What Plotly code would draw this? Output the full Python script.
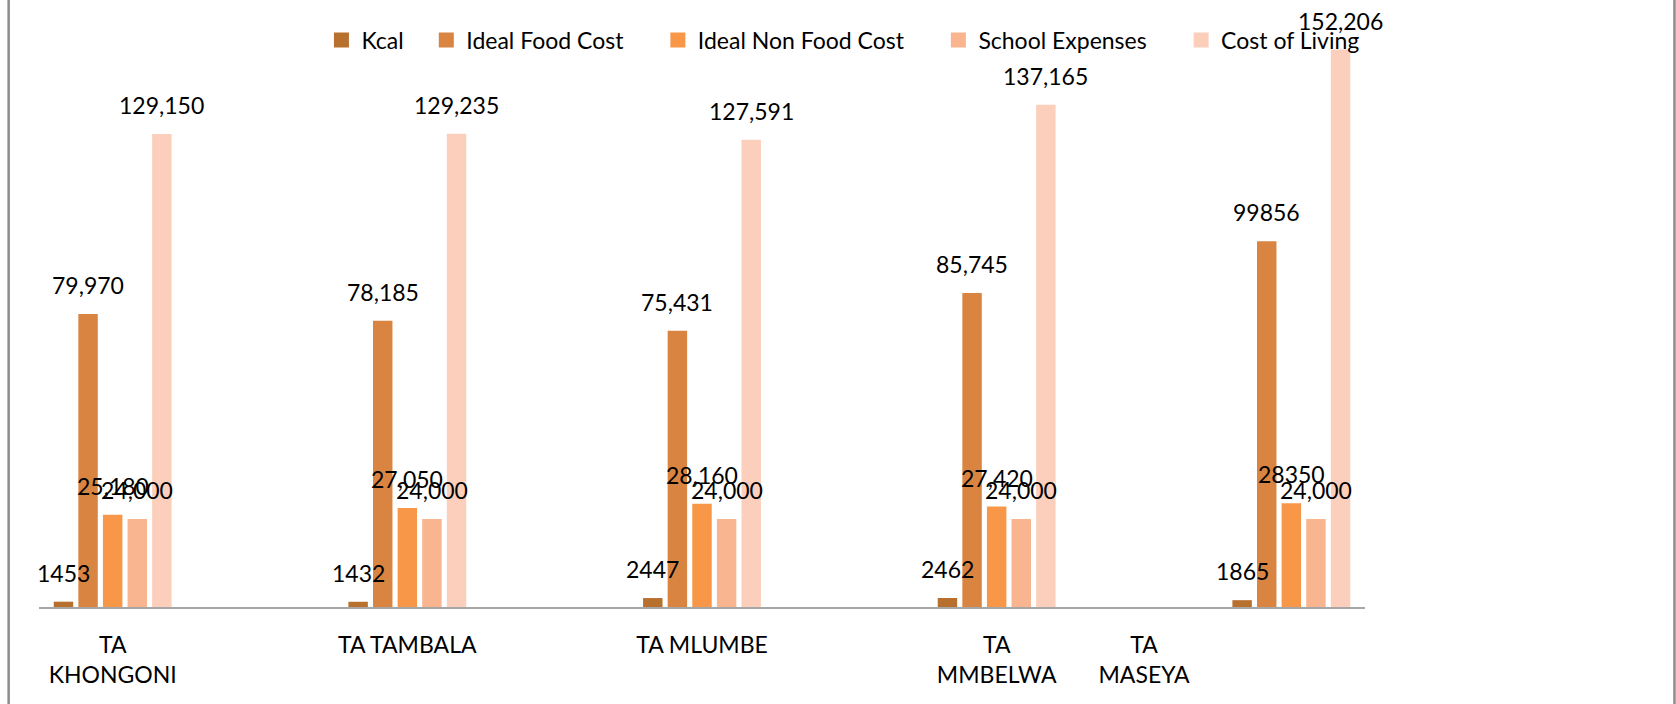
import plotly.graph_objects as go

# ---- data ----
categories = ["TA<br>KHONGONI", "TA TAMBALA", "TA MLUMBE", "TA<br>MMBELWA", "TA<br>MASEYA"]
group_x = [0, 1, 2, 3, 4]
tick_positions = [0, 1, 2, 3, 3.5]

series_names = ["Kcal", "Ideal Food Cost", "Ideal Non Food Cost", "School Expenses", "Cost of Living"]
kcal = [1453, 1432, 2447, 2462, 1865]
ideal_food_cost = [79970, 78185, 75431, 85745, 99856]
ideal_non_food_cost = [25180, 27050, 28160, 27420, 28350]
school_expenses = [24000, 24000, 24000, 24000, 24000]
cost_of_living = [129150, 129235, 127591, 137165, 152206]

kcal_labels = ["1453", "1432", "2447", "2462", "1865"]
food_labels = ["79,970", "78,185", "75,431", "85,745", "99856"]
non_food_labels = ["25,180", "27,050", "28,160", "27,420", "28350"]
school_labels = ["24,000", "24,000", "24,000", "24,000", "24,000"]
living_labels = ["129,150", "129,235", "127,591", "137,165", "152,206"]

series_values = [kcal, ideal_food_cost, ideal_non_food_cost, school_expenses, cost_of_living]
series_labels = [kcal_labels, food_labels, non_food_labels, school_labels, living_labels]
colors = ["#b8702f", "#d98440", "#f79747", "#f9b590", "#fbcfbb"]

# ---- style ----
FONT = "Lato"
FS = 23
bar_w = 0.066
slot = 0.0835
legend_pad = [3, 5, 5, 5, 0]

fig = go.Figure()
annotations = []
for j, (name, vals, labs, col) in enumerate(zip(series_names, series_values, series_labels, colors)):
    off = (j - 2) * slot
    fig.add_trace(go.Bar(
        x=group_x, y=vals, name=name, width=bar_w, offset=off - bar_w / 2,
        marker=dict(color=col, line=dict(width=0)), showlegend=False,
    ))
    fig.add_trace(go.Scatter(
        x=[None], y=[None], mode="markers", name=name + "\u00a0" * legend_pad[j],
        marker=dict(symbol="square", size=15, color=col), showlegend=True,
    ))
    for gx, v, t in zip(group_x, vals, labs):
        annotations.append(dict(
            x=gx + off, y=v, xref="x", yref="y", text=t, showarrow=False,
            yanchor="bottom", xanchor="center", yshift=13,
            font=dict(family=FONT, size=FS, color="#000000"),
        ))

frame = [
    dict(type="line", xref="paper", yref="paper", x0=-0.0229, x1=-0.0229, y0=-0.3, y1=1.2,
         line=dict(color="#8c8c8c", width=2.5)),
    dict(type="line", xref="paper", yref="paper", x0=1.2334, x1=1.2334, y0=-0.3, y1=1.2,
         line=dict(color="#8c8c8c", width=2.5)),
]

fig.update_layout(
    width=1676, height=704,
    margin=dict(l=39, r=311, t=21, b=97, pad=0),
    paper_bgcolor="white", plot_bgcolor="white",
    barmode="overlay",
    font=dict(family=FONT, size=FS, color="#000000"),
    annotations=annotations,
    shapes=frame,
    legend=dict(orientation="h", x=0.213, y=0.9676, xanchor="left", yanchor="middle",
                bgcolor="rgba(0,0,0,0)", font=dict(family=FONT, size=FS, color="#000000"),
                itemclick=False),
    xaxis=dict(range=[-0.25, 4.25], tickvals=tick_positions, ticktext=categories,
               ticks="", showgrid=False, zeroline=False, showline=True,
               linecolor="#a6a6a6", linewidth=2, ticklabelstandoff=16,
               tickfont=dict(family=FONT, size=FS, color="#000000")),
    yaxis=dict(range=[0, 160000], visible=False, showgrid=False, zeroline=False),
)
fig.update_traces(cliponaxis=False, selector=dict(type="bar"))

fig.write_html("out.html", config={"displayModeBar": False},
               post_script="document.body.style.margin='0';document.body.style.overflow='hidden';")
